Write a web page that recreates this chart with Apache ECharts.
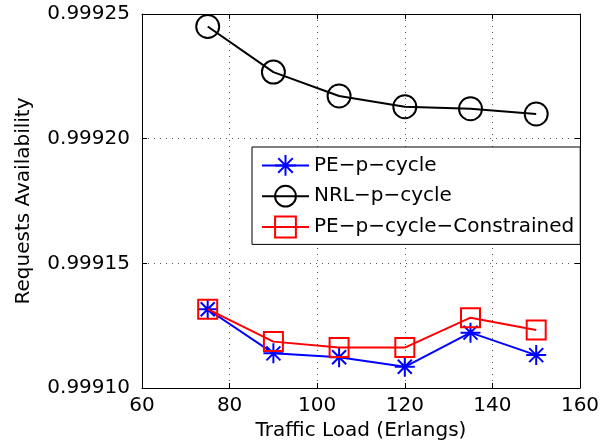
<!DOCTYPE html>
<html>
<head>
<meta charset="utf-8">
<script src="https://cdn.jsdelivr.net/npm/echarts@6/dist/echarts.min.js"></script>
<style>
  html, body { margin: 0; padding: 0; background: #fff; }
  #chart { width: 613px; height: 447px; }
</style>
</head>
<body>
<div id="chart"></div>
<script>
// traffic load (Erlangs)
const loads = [75, 90, 105, 120, 135, 150]
const peCycle = [0.9991316, 0.9991139, 0.9991123, 0.9991085, 0.9991222, 0.9991132]
const nrlCycle = [0.999245, 0.9992267, 0.9992171, 0.9992128, 0.999212, 0.9992099]
const peConstrained = [0.9991316, 0.9991186, 0.9991162, 0.9991162, 0.9991282, 0.9991233]
const yTicks = ['0.99910', '0.99915', '0.99920', '0.99925']

const font = '"DejaVu Sans", sans-serif'
const asterisk = 'path://M0,10L20,10M10,0L10,20M3,3L17,17M17,3L3,17'

const chart = echarts.init(document.getElementById('chart'))

function pairs(ys) {
  return loads.map((x, i) => [x, ys[i]])
}

function mirrorAxis(extra) {
  return Object.assign({
    axisLine: { show: true, lineStyle: { color: '#000', width: 1 } },
    axisTick: { show: true, inside: true, length: 5, lineStyle: { color: '#000' } },
    axisLabel: { show: false },
    splitLine: { show: false }
  }, extra)
}

chart.setOption({
  animation: false,
  backgroundColor: '#fff',
  grid: { left: 142, right: 33, top: 14, bottom: 59, containLabel: false },
  legend: {
    orient: 'vertical',
    left: 252,
    top: 147,
    padding: [7, 6, 6, 9],
    itemGap: 8,
    itemWidth: 47,
    itemHeight: 26,
    backgroundColor: '#fff',
    borderColor: '#000',
    borderWidth: 1,
    borderRadius: 0,
    textStyle: { fontFamily: font, fontSize: 20, color: '#000', padding: [0, 0, 0, 0] },
    data: ['PE−p−cycle', 'NRL−p−cycle', 'PE−p−cycle−Constrained']
  },
  xAxis: [
    {
      type: 'value',
      min: 60,
      max: 160,
      interval: 20,
      name: 'Traffic Load (Erlangs)',
      nameLocation: 'middle',
      nameGap: 31,
      nameTextStyle: { fontFamily: font, fontSize: 20, color: '#000' },
      axisLine: { show: true, lineStyle: { color: '#000', width: 1 } },
      axisTick: { show: true, inside: true, length: 5, lineStyle: { color: '#000' } },
      axisLabel: { fontFamily: font, fontSize: 20, color: '#000', margin: 8 },
      splitLine: { show: true, lineStyle: { color: '#555', type: [1, 5], width: 1 } }
    },
    mirrorAxis({ type: 'value', position: 'top', min: 60, max: 160, interval: 20 })
  ],
  yAxis: [
    {
      type: 'value',
      min: 0.9991,
      max: 0.99925,
      interval: 0.00005,
      name: 'Requests Availability',
      nameLocation: 'middle',
      nameGap: 108,
      nameTextStyle: { fontFamily: font, fontSize: 20, color: '#000' },
      axisLine: { show: true, lineStyle: { color: '#000', width: 1 } },
      axisTick: { show: true, inside: true, length: 5, lineStyle: { color: '#000' } },
      axisLabel: {
        fontFamily: font, fontSize: 20, color: '#000', margin: 12,
        formatter: (v) => yTicks[Math.round((v - 0.9991) / 0.00005)]
      },
      splitLine: { show: true, lineStyle: { color: '#555', type: [1, 5], width: 1 } }
    },
    mirrorAxis({ type: 'value', position: 'right', min: 0.9991, max: 0.99925, interval: 0.00005 })
  ],
  series: [
    {
      name: 'PE−p−cycle',
      type: 'line',
      data: pairs(peCycle),
      symbol: asterisk,
      symbolSize: 20,
      lineStyle: { color: '#0000ff', width: 2 },
      itemStyle: { color: '#0000ff', borderColor: '#0000ff', borderWidth: 2 },
      z: 3
    },
    {
      name: 'NRL−p−cycle',
      type: 'line',
      data: pairs(nrlCycle),
      symbol: 'circle',
      symbolSize: 23,
      lineStyle: { color: '#000', width: 2 },
      itemStyle: { color: 'rgba(0,0,0,0)', borderColor: '#000', borderWidth: 2 },
      z: 3
    },
    {
      name: 'PE−p−cycle−Constrained',
      type: 'line',
      data: pairs(peConstrained),
      symbol: 'rect',
      symbolSize: 19,
      lineStyle: { color: '#ff0000', width: 2 },
      itemStyle: { color: 'rgba(0,0,0,0)', borderColor: '#ff0000', borderWidth: 2 },
      z: 4
    }
  ]
})
</script>
</body>
</html>
